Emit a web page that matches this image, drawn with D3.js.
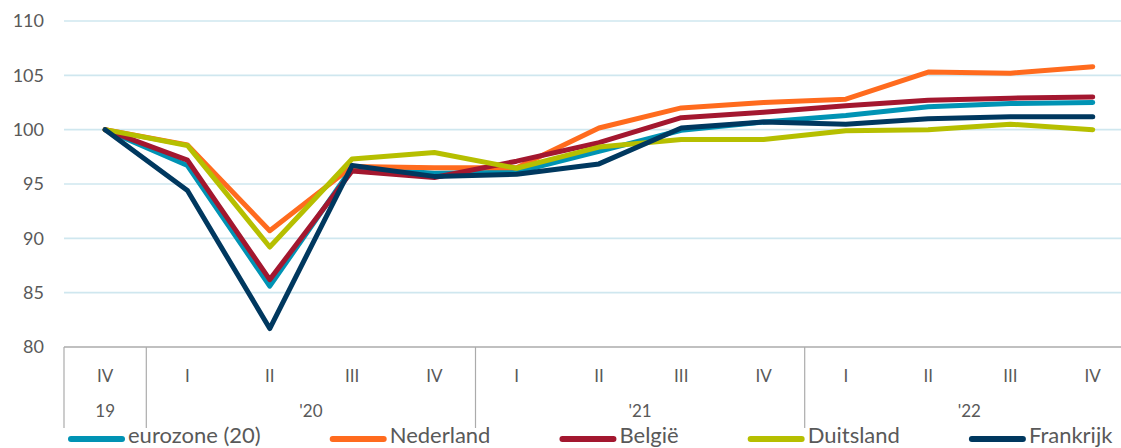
<!DOCTYPE html>
<html>
<head>
<meta charset="utf-8">
<script src="https://cdn.jsdelivr.net/npm/d3@7"></script>
<style>
  html, body { margin: 0; padding: 0; background: #fff; }
  svg { display: block; font-family: Lato, "Open Sans", sans-serif; }
</style>
</head>
<body>
<svg id="chart" width="1121" height="448"></svg>
<script>
// ---- data ----
const quarters = ["IV", "I", "II", "III", "IV", "I", "II", "III", "IV", "I", "II", "III", "IV"];
const years = ["19", "'20", "'21", "'22"];
const yearSpans = [1, 4, 4, 4];
const yTicks = [80, 85, 90, 95, 100, 105, 110];

const seriesNames = ["eurozone (20)", "Nederland", "België", "Duitsland", "Frankrijk"];
const eurozone  = [100, 96.7, 85.6, 96.5, 96.0, 96.1, 98.0, 99.95, 100.7, 101.3, 102.1, 102.4, 102.5];
const nederland = [100, 98.6, 90.7, 96.6, 96.5, 96.5, 100.15, 102.0, 102.5, 102.8, 105.3, 105.2, 105.8];
const belgie    = [100, 97.2, 86.2, 96.2, 95.6, 97.1, 98.8, 101.1, 101.6, 102.2, 102.7, 102.9, 103.0];
const duitsland = [100, 98.55, 89.2, 97.3, 97.9, 96.45, 98.4, 99.1, 99.1, 99.9, 100.0, 100.5, 100.0];
const frankrijk = [100, 94.4, 81.7, 96.7, 95.7, 95.9, 96.85, 100.15, 100.7, 100.5, 101.0, 101.2, 101.2];
const seriesColors = ["#0093B4", "#FF6B1E", "#A3172F", "#B6BF00", "#00385F"];

const seriesValues = [eurozone, nederland, belgie, duitsland, frankrijk];

// ---- layout ----
const svg = d3.select("#chart");
const plotLeft = 64, plotTop = 21, plotBottom = 347;
const step = 82.3;
const idx = quarters.map((_, i) => i);

const x = d3.scaleBand().domain(idx).range([plotLeft, plotLeft + step * quarters.length]).padding(0);
const y = d3.scaleLinear().domain([80, 110]).range([plotBottom, plotTop]);
const textColor = "#595959";

// gridlines
svg.append("g").selectAll("line").data(yTicks.filter(t => t !== 80)).join("line")
  .attr("x1", plotLeft).attr("x2", 1121)
  .attr("y1", d => y(d)).attr("y2", d => y(d))
  .attr("stroke", "#CFE7EF").attr("stroke-width", 1.6);

// y axis labels
const yAxis = d3.axisLeft(y).tickValues(yTicks).tickSize(0).tickPadding(0);
const gy = svg.append("g").attr("transform", `translate(44,0)`).call(yAxis);
gy.select(".domain").remove();
gy.selectAll("text").attr("font-size", 18).attr("fill", textColor).attr("font-family", "Lato");

// baseline
svg.append("line").attr("x1", plotLeft).attr("x2", 1121).attr("y1", y(80)).attr("y2", y(80))
  .attr("stroke", "#ABABAB").attr("stroke-width", 1.5);

// quarter labels
const xAxis = d3.axisBottom(x).tickFormat(i => quarters[i]).tickSize(0).tickPadding(0);
const gx = svg.append("g").attr("transform", `translate(0,${y(80)})`).call(xAxis);
gx.select(".domain").remove();
gx.selectAll("text").attr("font-size", 17).attr("fill", textColor).attr("font-family", "Lato")
  .attr("dy", null).attr("y", 28).attr("dominant-baseline", "central");

// year groups
let acc = 0;
const groups = years.map((yr, i) => {
  const g = { label: yr, start: acc, end: acc + yearSpans[i] };
  acc += yearSpans[i];
  return g;
});
const sepIdx = [0].concat(groups.map(g => g.end).slice(0, -1));
svg.append("g").selectAll("line").data(sepIdx).join("line")
  .attr("x1", d => x.range()[0] + d * x.step()).attr("x2", d => x.range()[0] + d * x.step())
  .attr("y1", y(80)).attr("y2", 428)
  .attr("stroke", "#ABABAB").attr("stroke-width", 1.2);

svg.append("g").selectAll("text").data(groups).join("text")
  .attr("x", d => x.range()[0] + (d.start + d.end) / 2 * x.step())
  .attr("y", 410).attr("text-anchor", "middle").attr("dominant-baseline", "central")
  .attr("font-size", 17).attr("fill", textColor).text(d => d.label);

// lines
const line = d3.line().x((d, i) => x(i) + x.bandwidth() / 2).y(d => y(d));
svg.append("g").selectAll("path").data(seriesValues).join("path")
  .attr("d", d => line(d))
  .attr("fill", "none")
  .attr("stroke", (d, i) => seriesColors[i])
  .attr("stroke-width", 5)
  .attr("stroke-linejoin", "round")
  .attr("stroke-linecap", "round");

// legend
const legend = svg.append("g");
let lx = 69;
const ly = 439;
seriesNames.forEach((name, i) => {
  legend.append("line").attr("x1", lx + 2).attr("x2", lx + 53).attr("y1", ly).attr("y2", ly)
    .attr("stroke", seriesColors[i]).attr("stroke-width", 6).attr("stroke-linecap", "round");
  const t = legend.append("text").attr("x", lx + 59).attr("y", 443)
    .attr("font-size", 22).attr("fill", textColor).text(name);
  const w = t.node().getComputedTextLength();
  lx = lx + 59 + w + 70;
});
</script>
</body>
</html>
